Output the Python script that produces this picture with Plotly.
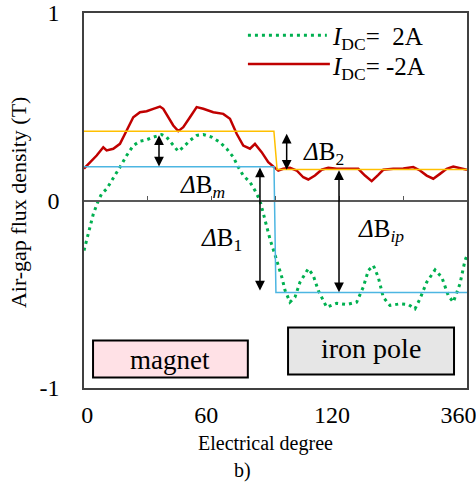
import plotly.graph_objects as go

# ---------------- data ----------------
red_x = [0, 5.6, 11.9, 18.1, 21.3, 27.5, 33.8, 40.1, 46.3, 52.6, 58.9, 65.1, 71.4, 74.5, 79.2, 83.9,
         88.6, 93.3, 99.6, 105.9, 112.1, 121.5, 130.9, 137.2, 143.5, 149.7, 156, 160.7, 167, 173.2,
         179.5, 182.6, 187.3, 193.6, 199.9, 206.1, 210.8, 217.1, 223.4, 229.6, 237.5, 246.9, 257.8,
         264.1, 270.4, 276.6, 281.3, 290.7, 300.1, 309.5, 315.8, 322.1, 328.3, 334.6, 340.9, 347.1,
         353.4, 360]
red_y = [0.17, 0.204, 0.24, 0.284, 0.267, 0.276, 0.302, 0.373, 0.444, 0.471, 0.476, 0.489, 0.501,
         0.489, 0.444, 0.4, 0.37, 0.391, 0.444, 0.498, 0.489, 0.471, 0.462, 0.436, 0.356, 0.293,
         0.276, 0.302, 0.258, 0.204, 0.174, 0.16, 0.169, 0.174, 0.16, 0.124, 0.112, 0.133, 0.164,
         0.174, 0.169, 0.169, 0.169, 0.133, 0.103, 0.137, 0.164, 0.169, 0.171, 0.178, 0.16, 0.133,
         0.116, 0.142, 0.169, 0.181, 0.174, 0.164]

green_x = [0, 2.5, 5.6, 8.8, 13.5, 16.6, 21.3, 27.5, 33.8, 40.1, 46.3, 52.6, 58.9, 65.1, 73, 77.7,
           83.9, 88.6, 93.3, 99.6, 105.9, 112.1, 120, 127.8, 134.1, 140.4, 145, 149.7, 156, 160.7,
           165.4, 168, 171, 175, 179, 183, 186, 189, 193.6, 198.3, 203, 210.8, 215.5, 220.2, 228.1,
           237.5, 246.9, 256.3, 262.5, 267.3, 272, 276.6, 281.3, 287.6, 297, 304.9, 311.1, 315.8,
           322.1, 330, 336.3, 342.4, 347.1, 353.4, 358.1, 360]
green_y = [-0.267, -0.213, -0.142, -0.071, 0, 0.036, 0.062, 0.116, 0.178, 0.24, 0.293, 0.316, 0.324,
           0.338, 0.352, 0.338, 0.293, 0.262, 0.284, 0.32, 0.347, 0.352, 0.338, 0.311, 0.276, 0.231,
           0.178, 0.133, 0.098, 0.053, 0, -0.06, -0.13, -0.21, -0.28, -0.35, -0.41, -0.48, -0.542,
           -0.516, -0.436, -0.364, -0.4, -0.48, -0.569, -0.548, -0.555, -0.542, -0.462, -0.373,
           -0.347, -0.409, -0.516, -0.56, -0.551, -0.555, -0.578, -0.524, -0.436, -0.37, -0.409,
           -0.507, -0.542, -0.444, -0.32, -0.293]

yellow_x = [0, 178.5, 181.5, 360]
yellow_y = [0.37, 0.37, 0.165, 0.165]

blue_x = [0, 178.6, 180.4, 360]
blue_y = [0.18, 0.18, -0.49, -0.49]

# double arrows: (x, y_top, y_bottom)
arrow_x = [70.5, 190.5, 165.4, 239.7]
arrow_top = [0.356, 0.364, 0.184, 0.169]
arrow_bot = [0.181, 0.164, -0.48, -0.489]

xtick_pos = [3, 115, 233, 352]
xtick_text = ["0", "60", "120", "360"]
zero_ticks = [60, 120, 180, 240, 300]
ytick_vals = [-1, 0, 1]
ytick_text = ["-1", "0", "1"]

FONT = "Liberation Serif"

fig = go.Figure()
fig.add_trace(go.Scatter(x=yellow_x, y=yellow_y, mode="lines", xaxis="x2",
                         line=dict(color="#FFC000", width=1.5), showlegend=False))
fig.add_trace(go.Scatter(x=blue_x, y=blue_y, mode="lines", xaxis="x2",
                         line=dict(color="#4DB6E2", width=1.5), showlegend=False))
fig.add_trace(go.Scatter(x=red_x, y=red_y, mode="lines",
                         line=dict(color="#C00000", width=2.5), showlegend=False))
fig.add_trace(go.Scatter(x=green_x, y=green_y, mode="lines",
                         line=dict(color="#00B050", width=3, dash="3px,4px"), showlegend=False))

ann = []
for xa, yt, yb in zip(arrow_x, arrow_top, arrow_bot):
    ann.append(dict(x=xa, y=yb, ax=xa, ay=yt, xref="x", yref="y", axref="x", ayref="y",
                    text="", showarrow=True, arrowhead=2, arrowside="end+start",
                    arrowsize=1.3, arrowwidth=1.5, arrowcolor="black", standoff=0, startstandoff=0))

lab = dict(showarrow=False, xanchor="center", yanchor="middle", xref="x", yref="y",
           font=dict(family=FONT, size=25, color="black"))
ann.append(dict(x=111.4, y=0.075, text="<i>Δ</i>B<i><sub>m</sub></i>", **lab))
ann.append(dict(x=224.7, y=0.251, text="<i>Δ</i>B<sub>2</sub>", **lab))
ann.append(dict(x=129.7, y=-0.208, text="<i>Δ</i>B<sub>1</sub>", **lab))
ann.append(dict(x=279.5, y=-0.16, text="<i>Δ</i>B<i><sub>ip</sub></i>", **lab))

# boxes
fig.add_shape(type="rect", xref="x", yref="y", x0=8.5, x1=154, y0=-0.944, y1=-0.747,
              fillcolor="#FFE1E6", line=dict(color="black", width=2))
fig.add_shape(type="rect", xref="x", yref="y", x0=191.8, x1=347.8, y0=-0.928, y1=-0.677,
              fillcolor="#E6E6E6", line=dict(color="black", width=2))
ann.append(dict(x=81, y=-0.85, xref="x", yref="y", text="magnet", showarrow=False,
                xanchor="center", yanchor="middle",
                font=dict(family=FONT, size=27, color="black")))
ann.append(dict(x=270, y=-0.79, xref="x", yref="y", text="iron pole", showarrow=False,
                xanchor="center", yanchor="middle",
                font=dict(family=FONT, size=28, color="black")))

# legend
fig.add_shape(type="line", xref="paper", yref="paper", x0=0.428, x1=0.634, y0=0.941, y1=0.941,
              line=dict(color="#00B050", width=3, dash="3px,4px"))
fig.add_shape(type="line", xref="paper", yref="paper", x0=0.428, x1=0.642, y0=0.864, y1=0.864,
              line=dict(color="#C00000", width=2.5))
ann.append(dict(x=0.642, y=0.931, xref="paper", yref="paper", xanchor="left", yanchor="middle",
                text="<i>I</i><sub>DC</sub>=  2A", showarrow=False,
                font=dict(family=FONT, size=25, color="black")))
ann.append(dict(x=0.642, y=0.853, xref="paper", yref="paper", xanchor="left", yanchor="middle",
                text="<i>I</i><sub>DC</sub>= -2A", showarrow=False,
                font=dict(family=FONT, size=25, color="black")))

# axis titles
ann.append(dict(x=0.473, y=-0.147, xref="paper", yref="paper", text="Electrical degree",
                xanchor="center", yanchor="middle",
                showarrow=False, font=dict(family=FONT, size=20, color="black")))
ann.append(dict(x=0.413, y=-0.221, xref="paper", yref="paper", text="b)",
                xanchor="center", yanchor="middle",
                showarrow=False, font=dict(family=FONT, size=20, color="black")))
ann.append(dict(x=-0.172, y=0.496, xref="paper", yref="paper", text="Air-gap flux density (T)",
                xanchor="center", yanchor="middle",
                textangle=-90, showarrow=False, font=dict(family=FONT, size=22, color="black")))

fig.update_layout(
    width=476, height=484,
    margin=dict(l=84, r=9, t=13, b=96),
    paper_bgcolor="white", plot_bgcolor="white",
    font=dict(family=FONT, color="black"),
    xaxis=dict(range=[0, 360], showgrid=False, zeroline=False, showline=True, mirror=True,
               linecolor="#404040", linewidth=1.5, tickmode="array", tickvals=xtick_pos,
               ticktext=xtick_text, ticks="", tickfont=dict(family=FONT, size=24, color="black"),
               ticklabelstandoff=4, automargin=False, ticklabeloverflow="allow"),
    xaxis2=dict(range=[0, 360], overlaying="x", anchor="free", position=0.5, side="bottom",
                showgrid=False, zeroline=False, showline=True, linecolor="#595959", linewidth=1.5,
                tickmode="array", tickvals=zero_ticks, ticks="inside", ticklen=4, tickwidth=1,
                tickcolor="#595959", showticklabels=False, automargin=False),
    yaxis=dict(range=[-1, 1], showgrid=False, zeroline=False, showline=True, mirror=True,
               linecolor="#404040", linewidth=1.5, tickmode="array", tickvals=ytick_vals,
               ticktext=ytick_text, ticks="", tickfont=dict(family=FONT, size=24, color="black"),
               ticklabelstandoff=18, automargin=False, ticklabeloverflow="allow"),
    annotations=ann,
)

fig.write_html("out.html")
